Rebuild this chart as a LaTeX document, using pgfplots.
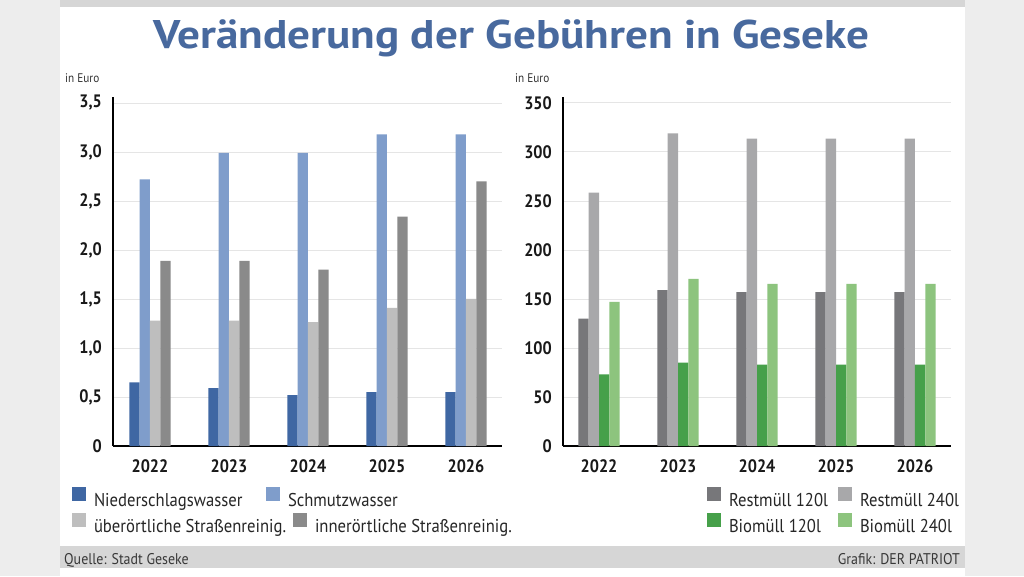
\documentclass[border=0pt]{standalone}
\usepackage{fontspec}
\setmainfont{PT Sans}[FakeStretch=0.9]
\newfontfamily\titlefont{PT Sans}[FakeStretch=1.13]
\usepackage{pgfplots}
\usepackage{pgfplotstable}
\pgfplotsset{compat=1.18}

\definecolor{nied}{HTML}{3F67A3}
\definecolor{schmutz}{HTML}{7F9DCB}
\definecolor{ueber}{HTML}{BEBEBE}
\definecolor{inner}{HTML}{8A8A8A}
\definecolor{rest120}{HTML}{77777A}
\definecolor{rest240}{HTML}{A8A8AA}
\definecolor{bio120}{HTML}{46A04A}
\definecolor{bio240}{HTML}{8DC47E}
\definecolor{titleblue}{HTML}{48699E}
\definecolor{bgc}{HTML}{EDEDED}
\definecolor{barc}{HTML}{D6D6D6}

\pgfplotstableread{
x nied schmutz ueber inner
0 0.65 2.72 1.28  1.89
1 0.59 2.99 1.28  1.89
2 0.52 2.99 1.265 1.80
3 0.55 3.18 1.41  2.34
4 0.55 3.18 1.50  2.70
}\leftdata

\pgfplotstableread{
x r120 r240 b120 b240
0 130 258.5 73 147
1 159 319.0 85 170.5
2 157 313.5 83 165.5
3 157 313.5 83 165.5
4 157 313.5 83 165.5
}\rightdata

\pgfplotsset{
  feechart/.style={
    scale only axis, height=349pt, anchor=south west,
    ybar, bar width=10.3pt,
    xtick={0,1,2,3,4}, xticklabels={2022,2023,2024,2025,2026},
    axis x line*=bottom, axis y line*=left,
    axis line style={line width=1.3pt, -},
    major tick length=0pt,
    ymajorgrids, major grid style={draw=black!10, line width=0.8pt},
    xticklabel style={font=\bfseries\fontsize{18}{18}\selectfont, text=black!90, inner sep=0pt, anchor=north, yshift=-13pt},
    yticklabel style={font=\bfseries\fontsize{18}{18}\selectfont, text=black!90, inner sep=0pt, anchor=east, xshift=-11pt},
    legend columns=2, legend cell align=left,
    legend image code/.code={\fill[##1] (0pt,0pt) rectangle (14pt,13.5pt);},
    legend style={draw=none, fill=none, inner sep=0pt, outer sep=0pt,
      at={(axis description cs:0,0)}, anchor=north west,
      font=\fontsize{18.5}{18.5}\selectfont, text=black!85,
      nodes={inner sep=0pt},
      /tikz/every odd column/.style={column sep=8pt}},
  },
}

\begin{document}
\begin{tikzpicture}
\useasboundingbox (0,0) rectangle (1024pt,576pt);
\fill[bgc] (0,0) rectangle (1024pt,576pt);
\fill[white] (60pt,0pt) rectangle (965pt,569pt);
\fill[barc] (60pt,569pt) rectangle (965pt,576pt);
\fill[barc] (60pt,8pt) rectangle (965pt,30pt);

\node[anchor=base, text=titleblue, font=\titlefont\bfseries\fontsize{40}{40}\selectfont] at (511.5pt,527pt) {Veränderung der Gebühren in Geseke};

\node[anchor=base west, font=\fontsize{12.5}{12.5}\selectfont, text=black!80, inner sep=0pt] at (65pt,493pt) {in Euro};
\node[anchor=base west, font=\fontsize{12.5}{12.5}\selectfont, text=black!80, inner sep=0pt] at (515pt,493pt) {in Euro};

\node[anchor=base west, font=\fontsize{15.5}{15.5}\selectfont, text=black!78, inner sep=0pt] at (64pt,12pt) {Quelle: Stadt Geseke};
\node[anchor=base east, font=\fontsize{15.5}{15.5}\selectfont, text=black!78, inner sep=0pt] at (960pt,12pt) {Grafik: DER PATRIOT};

% left chart, row 1
\begin{axis}[feechart, at={(113pt,130pt)}, width=389pt,
  xmin=-0.468, xmax=4.456, ymin=0, ymax=3.561,
  ytick={0,0.5,1,1.5,2,2.5,3,3.5},
  yticklabels={0,{0,5},{1,0},{1,5},{2,0},{2,5},{3,0},{3,5}},
  legend style={xshift=-41pt, yshift=-41pt}]
\addplot[fill=nied, draw=none, bar shift=-15.45pt] table[x=x,y=nied]{\leftdata};
\addlegendentry{\makebox[172pt][l]{Niederschlagswasser}}
\addplot[fill=schmutz, draw=none, bar shift=-5.15pt] table[x=x,y=schmutz]{\leftdata};
\addlegendentry{Schmutzwasser}
\end{axis}
% left chart, row 2
\begin{axis}[feechart, hide axis, at={(113pt,130pt)}, width=389pt,
  xmin=-0.468, xmax=4.456, ymin=0, ymax=3.561,
  legend style={xshift=-41pt, yshift=-67pt}]
\addplot[fill=ueber, draw=none, bar shift=5.15pt] table[x=x,y=ueber]{\leftdata};
\addlegendentry{\makebox[199pt][l]{überörtliche Straßenreinig.}}
\addplot[fill=inner, draw=none, bar shift=15.45pt] table[x=x,y=inner]{\leftdata};
\addlegendentry{innerörtliche Straßenreinig.}
\end{axis}

% right chart, row 1
\begin{axis}[feechart, at={(563pt,130pt)}, width=388pt,
  xmin=-0.456, xmax=4.456, ymin=0, ymax=356,
  ytick={0,50,100,150,200,250,300,350},
  yticklabels={0,50,100,150,200,250,300,350},
  legend style={xshift=144pt, yshift=-41pt}]
\addplot[fill=rest120, draw=none, bar shift=-15.45pt] table[x=x,y=r120]{\rightdata};
\addlegendentry{\makebox[109pt][l]{Restmüll 120l}}
\addplot[fill=rest240, draw=none, bar shift=-5.15pt] table[x=x,y=r240]{\rightdata};
\addlegendentry{Restmüll 240l}
\end{axis}
% right chart, row 2
\begin{axis}[feechart, hide axis, at={(563pt,130pt)}, width=388pt,
  xmin=-0.456, xmax=4.456, ymin=0, ymax=356,
  legend style={xshift=144pt, yshift=-67pt}]
\addplot[fill=bio120, draw=none, bar shift=5.15pt] table[x=x,y=b120]{\rightdata};
\addlegendentry{\makebox[109pt][l]{Biomüll 120l}}
\addplot[fill=bio240, draw=none, bar shift=15.45pt] table[x=x,y=b240]{\rightdata};
\addlegendentry{Biomüll 240l}
\end{axis}
\end{tikzpicture}
\end{document}
